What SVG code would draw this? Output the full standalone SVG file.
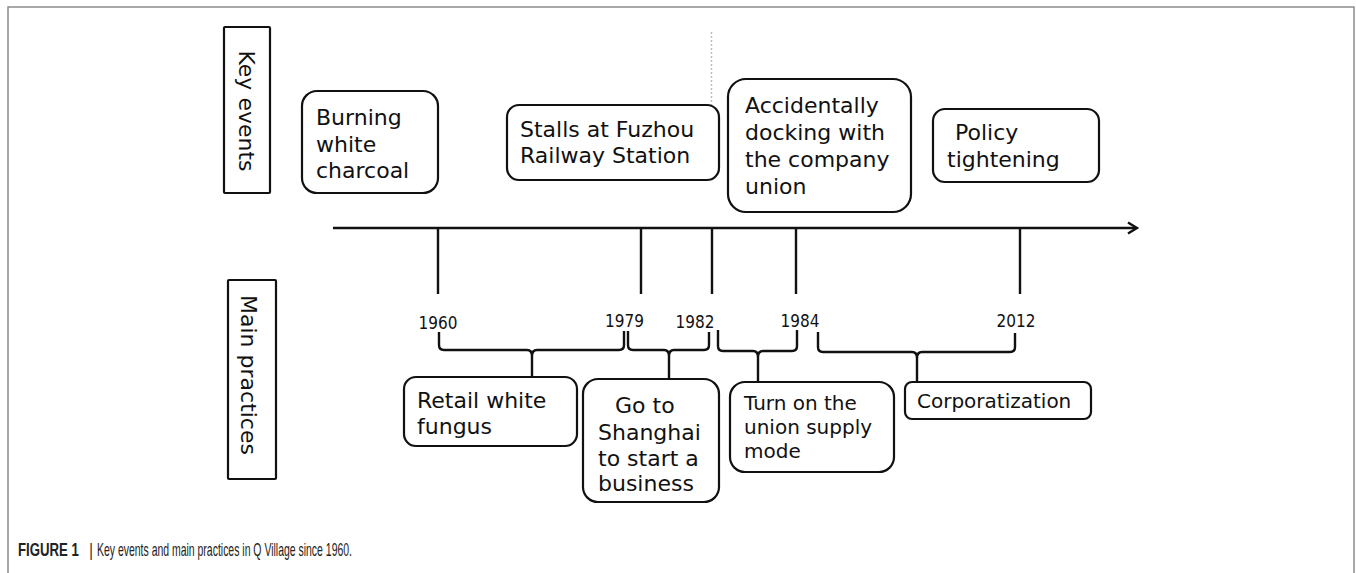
<svg xmlns="http://www.w3.org/2000/svg" width="1356" height="573" viewBox="0 0 1356 573">
<style>
.frame{fill:none;stroke:#8c8c8c;stroke-width:1.5}
.box{fill:#fff;stroke:#111;stroke-width:2.2}
.t{font-family:"DejaVu Sans",Verdana,sans-serif;font-size:22px;fill:#111}
.t20{font-family:"DejaVu Sans",Verdana,sans-serif;font-size:20px;fill:#111}
.yr{font-family:"DejaVu Sans Condensed","DejaVu Sans",sans-serif;font-stretch:condensed;font-size:17px;fill:#111;text-anchor:middle}
.ln{fill:none;stroke:#111;stroke-width:2.4}
.br{fill:none;stroke:#111;stroke-width:2.4;stroke-linejoin:round}
.cap{font-family:"Liberation Sans",Arial,sans-serif;font-size:17.5px;fill:#222}
</style>
<rect width="1356" height="573" fill="#fff"/>
<path class="frame" d="M8,573 V7 H1354 V573"/>

<g id="label-key-events">
<rect class="box" x="224" y="27" width="46" height="166" rx="1"/>
<text class="t" text-anchor="middle" transform="translate(239,111) rotate(90)">Key events</text>
</g>
<g id="label-main-practices">
<rect class="box" x="228" y="280" width="48" height="199" rx="1"/>
<text class="t" text-anchor="middle" transform="translate(241,375) rotate(90)">Main practices</text>
</g>

<g id="connectors">
<path class="ln" d="M333,228 H1136"/>
<path class="ln" d="M1128,222.5 L1137,228 L1128,233.5" stroke-linejoin="miter"/>
<path class="ln" d="M438,228 V294 M641,228 V294 M712,228 V294 M796,228 V294 M1020,228 V294"/>
<path d="M711.5,32 V123" stroke="#bbb" stroke-width="1.5" stroke-dasharray="2,2"/>
<path class="br" d="M439,332 V345 Q439,350 444,350 H527 Q532,350 532,356 V377 M532,356 Q532,350 537,350 H619 Q624,350 624,345 V331"/>
<path class="br" d="M628,331 V345 Q628,350 633,350 H664 Q669,350 669,356 V379 M669,356 Q669,350 674,350 H704 Q709,350 709,345 V332"/>
<path class="br" d="M718,330 V346 Q718,351 723,351 H753 Q758,351 758,357 V382 M758,357 Q758,351 763,351 H792 Q797,351 797,346 V330"/>
<path class="br" d="M818,332 V347 Q818,352 823,352 H912 Q917,352 917,358 V382 M917,358 Q917,352 922,352 H1010 Q1015,352 1015,347 V333"/>
</g>

<g id="years">
<text class="yr" x="438" y="329">1960</text>
<text class="yr" x="624.5" y="327">1979</text>
<text class="yr" x="695" y="328">1982</text>
<text class="yr" x="800" y="327">1984</text>
<text class="yr" x="1016" y="327">2012</text>
</g>

<g id="ev-burning">
<rect class="box" x="302" y="91" width="136" height="102" rx="15"/>
<text class="t" x="316" y="125">Burning</text>
<text class="t" x="316" y="152">white</text>
<text class="t" x="316" y="178">charcoal</text>
</g>
<g id="ev-stalls">
<rect class="box" x="507" y="105" width="212" height="75" rx="12"/>
<text class="t" x="520" y="137">Stalls at Fuzhou</text>
<text class="t" x="520" y="163">Railway Station</text>
</g>
<g id="ev-accidentally">
<rect class="box" x="728" y="79" width="183" height="133" rx="18"/>
<text class="t" x="745" y="113">Accidentally</text>
<text class="t" x="745" y="140">docking with</text>
<text class="t" x="745" y="167">the company</text>
<text class="t" x="745" y="194">union</text>
</g>
<g id="ev-policy">
<rect class="box" x="933" y="109" width="166" height="73" rx="12"/>
<text class="t" x="955" y="140">Policy</text>
<text class="t" x="947" y="167">tightening</text>
</g>

<g id="pr-retail">
<rect class="box" x="404" y="377" width="173" height="69" rx="12"/>
<text class="t" x="417" y="408">Retail white</text>
<text class="t" x="417" y="434">fungus</text>
</g>
<g id="pr-shanghai">
<rect class="box" x="583" y="379" width="136" height="123" rx="15"/>
<text class="t" x="615" y="413">Go to</text>
<text class="t" x="598" y="440">Shanghai</text>
<text class="t" x="598" y="466">to start a</text>
<text class="t" x="598" y="491">business</text>
</g>
<g id="pr-union">
<rect class="box" x="730" y="382" width="164" height="90" rx="15"/>
<text class="t20" x="744" y="410">Turn on the</text>
<text class="t20" x="744" y="434">union supply</text>
<text class="t20" x="744" y="458">mode</text>
</g>
<g id="pr-corp">
<rect class="box" x="905" y="382" width="186" height="37" rx="7"/>
<text class="t20" x="917" y="408">Corporatization</text>
</g>

<g id="caption" transform="translate(0,556) scale(0.8,1)">
<text class="cap" x="22.5" y="0" font-weight="bold" textLength="76" lengthAdjust="spacingAndGlyphs">FIGURE 1</text>
<text class="cap" x="111.5" y="0">|</text>
<text class="cap" x="121.25" y="0" textLength="318.75" lengthAdjust="spacingAndGlyphs">Key events and main practices in Q Village since 1960.</text>
</g>
</svg>
